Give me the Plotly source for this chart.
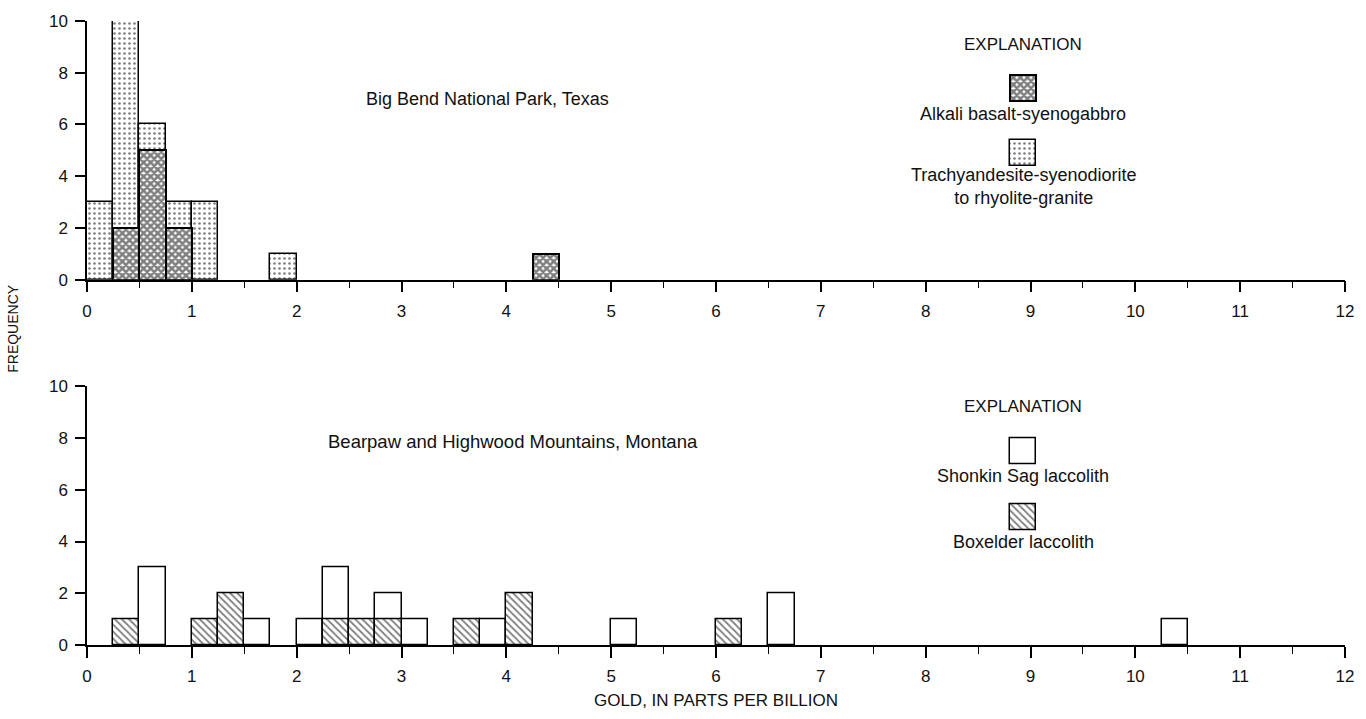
import plotly.graph_objects as go

# ---------------- data (bin left edges, width 0.25 ppb) ----------------
BIN_WIDTH = 0.25
trachy_left = [0, 0.25, 0.5, 0.75, 1.0, 1.75]
trachy_count = [3, 10, 6, 3, 3, 1]
alkali_left = [0.25, 0.5, 0.75, 4.25]
alkali_count = [2, 5, 2, 1]

shonkin_left = [0.5, 1.5, 2.0, 2.25, 2.75, 3.0, 3.75, 5.0, 6.5, 10.25]
shonkin_count = [3, 1, 1, 3, 2, 1, 1, 1, 2, 1]
boxelder_left = [0.25, 1.0, 1.25, 2.25, 2.5, 2.75, 3.5, 4.0, 6.0]
boxelder_count = [1, 1, 2, 1, 1, 1, 1, 2, 1]

x_ticks = list(range(0, 13))
y_ticks = [0, 2, 4, 6, 8, 10]

FONT = "Liberation Sans, Arial, sans-serif"
INK = "#111111"

stipple = dict(shape=".", fgcolor="black", bgcolor="white", size=5, solidity=0.22)
cross = dict(shape="x", fgcolor="black", bgcolor="white", size=5, solidity=0.75)
hatch = dict(shape="\\", fgcolor="black", bgcolor="white", size=5, solidity=0.35)
plain = dict(shape="")

def bars(xs, ys, pattern, xa, ya, base=None, lw=1.5):
    return go.Bar(
        x=xs, y=ys, base=base, width=BIN_WIDTH, offset=0,
        marker=dict(color="white", pattern=pattern,
                    line=dict(color="black", width=lw)),
        xaxis=xa, yaxis=ya, showlegend=False, hoverinfo="x+y",
    )

fig = go.Figure()
# top panel
fig.add_trace(bars(trachy_left, trachy_count, stipple, "x", "y"))
fig.add_trace(bars(alkali_left, alkali_count, cross, "x", "y", lw=2))
# bottom panel
fig.add_trace(bars(shonkin_left, shonkin_count, plain, "x2", "y2"))
fig.add_trace(bars(boxelder_left, boxelder_count, hatch, "x2", "y2"))

# legend keys (explanation boxes)
fig.add_trace(bars([8.8], [1], cross, "x", "y", base=[6.9], lw=2))
fig.add_trace(bars([8.8], [1], stipple, "x", "y", base=[4.4]))
fig.add_trace(bars([8.8], [1], plain, "x2", "y2", base=[7.0]))
fig.add_trace(bars([8.8], [1], hatch, "x2", "y2", base=[4.45]))

xcommon = dict(
    range=[0, 12], tickvals=x_ticks, showline=True, linecolor="black", linewidth=1.5,
    ticks="outside", ticklen=11, tickwidth=1.5, tickcolor="black",
    minor=dict(dtick=0.5, ticks="outside", ticklen=7, tickwidth=1.2, tickcolor="black"),
    showgrid=False, zeroline=False, ticklabelstandoff=4,
    tickfont=dict(family=FONT, size=17, color=INK), fixedrange=True,
)
ycommon = dict(
    range=[0, 10], tickvals=y_ticks, showline=True, linecolor="black", linewidth=1.5,
    ticks="outside", ticklen=10, tickwidth=1.5, tickcolor="black",
    showgrid=False, zeroline=False, ticklabelstandoff=4,
    tickfont=dict(family=FONT, size=17, color=INK), fixedrange=True,
)

fig.update_layout(
    width=1366, height=719,
    margin=dict(l=87, r=12, t=19, b=68),
    paper_bgcolor="white", plot_bgcolor="white",
    barmode="overlay", bargap=0,
    font=dict(family=FONT, size=17, color=INK),
    xaxis=dict(domain=[0, 1], anchor="y", **xcommon),
    yaxis=dict(domain=[0.5854, 1], anchor="x", **ycommon),
    xaxis2=dict(domain=[0, 1], anchor="y2",
                title=dict(text="GOLD, IN PARTS PER BILLION", standoff=9,
                           font=dict(family=FONT, size=17, color=INK)),
                **xcommon),
    yaxis2=dict(domain=[0, 0.4146], anchor="x2", **ycommon),
)

def note(text, x, y, xref, yref, size=18, **kw):
    fig.add_annotation(text=text, x=x, y=y, xref=xref, yref=yref, showarrow=False,
                       font=dict(family=FONT, size=size, color=INK),
                       xanchor="center", yanchor="middle", **kw)

# panel titles
note("Big Bend National Park, Texas", 3.82, 6.98, "x", "y")
note("Bearpaw and Highwood Mountains, Montana", 4.06, 7.86, "x2", "y2", size=18.5)

# explanations
note("EXPLANATION", 8.93, 9.1, "x", "y", size=17)
note("Alkali basalt-syenogabbro", 8.93, 6.41, "x", "y")
note("Trachyandesite-syenodiorite<br>to rhyolite-granite", 8.93, 3.6, "x", "y")

note("EXPLANATION", 8.93, 9.2, "x2", "y2", size=17)
note("Shonkin Sag laccolith", 8.93, 6.53, "x2", "y2")
note("Boxelder laccolith", 8.93, 3.97, "x2", "y2")

# shared y-axis label
note("FREQUENCY", -0.059, 0.508, "paper", "paper", size=14, textangle=-90)

fig.write_html("out.html")
